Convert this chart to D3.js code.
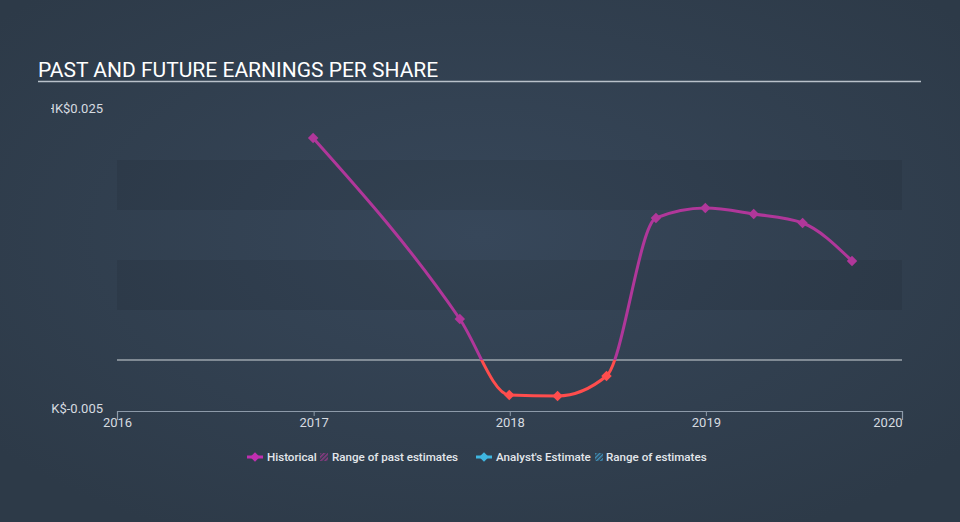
<!DOCTYPE html>
<html><head><meta charset="utf-8">
<script src="https://cdn.jsdelivr.net/npm/d3@7"></script>
<style>body{margin:0;background:#2f3c4b;}svg{display:block;}</style>
</head><body>
<svg id="c" width="960" height="522"></svg>
<script>
const dates = ["2016-12-31","2017-09-30","2017-12-31","2018-03-31","2018-06-30","2018-09-30","2018-12-31","2019-03-31","2019-06-30","2019-09-30"];
const eps = [0.0222,0.0041,-0.0035,-0.0036,-0.0016,0.0142,0.0152,0.0146,0.0137,0.0099];
const yTicks = [0.025,-0.005];
const xTickYears = [2016,2017,2018,2019,2020];
const title = "PAST AND FUTURE EARNINGS PER SHARE";
const legendItems = ["Historical","Range of past estimates","Analyst's Estimate","Range of estimates"];

const svg = d3.select("#c");
const W = 960, H = 522;
const defs = svg.append("defs");
const rg = defs.append("radialGradient").attr("id","bg").attr("cx","50%").attr("cy","45%").attr("r","65%");
rg.append("stop").attr("offset","0%").attr("stop-color","#37475a");
rg.append("stop").attr("offset","100%").attr("stop-color","#2d3a48");
svg.append("rect").attr("width",W).attr("height",H).attr("fill","url(#bg)");

const parse = d3.timeParse("%Y-%m-%d");
const data = dates.map((d,i)=>({date:parse(d), v:eps[i]}));
const x = d3.scaleTime().domain([new Date(2016,0,1), new Date(2020,0,1)]).range([117,902]);
const y = d3.scaleLinear().domain([-0.005,0.025]).range([410,110]);

// bands
const bandEdges = d3.range(-0.005, 0.0251, 0.005).map(v=>+v.toFixed(3));
for (let i=1;i<bandEdges.length-1;i++){
  if (i%2===0) {
    svg.append("rect").attr("x",x.range()[0]).attr("width",x.range()[1]-x.range()[0])
      .attr("y",y(bandEdges[i+1])).attr("height",y(bandEdges[i])-y(bandEdges[i+1]))
      .attr("fill","#000").attr("opacity",0.07);
  }
}

// title
svg.append("text").attr("x",38).attr("y",77).text(title)
  .attr("fill","#ffffff").attr("font-family","Roboto").attr("font-size",21);
svg.append("line").attr("x1",38).attr("x2",921).attr("y1",81.5).attr("y2",81.5)
  .attr("stroke","#b9c1ca").attr("stroke-width",1.5);

// y labels, clipped at left
defs.append("clipPath").attr("id","ylab").append("rect").attr("x",51).attr("y",0).attr("width",200).attr("height",H);
const yl = svg.append("g").attr("clip-path","url(#ylab)");
yl.selectAll("text").data(yTicks).join("text")
  .attr("x",103).attr("y",d=>y(d)-2).attr("dy","0.35em").attr("text-anchor","end")
  .attr("fill","#d6dbe0").attr("font-family","Roboto").attr("font-size",13)
  .text(d=>"HK$"+d.toFixed(3));

// zero line
svg.append("line").attr("x1",117).attr("x2",902).attr("y1",y(0)).attr("y2",y(0))
  .attr("stroke","#d0d5da").attr("stroke-width",1.2);

// x axis
const xa = svg.append("g").attr("transform",`translate(0,${y(-0.005)+1})`)
  .call(d3.axisBottom(x).tickValues(xTickYears.map(yr=>new Date(yr,0,1))).tickFormat(d3.timeFormat("%Y")).tickSizeInner(5).tickSizeOuter(9));
xa.select(".domain").attr("stroke","#8d9aa9").attr("stroke-width",1.2);
xa.selectAll(".tick line").attr("stroke","#8d9aa9");
xa.selectAll(".tick text").attr("fill","#d6dbe0").attr("font-family","Roboto").attr("font-size",13).attr("dy","0.5em").attr("y",9);
xa.selectAll(".tick text").filter((d,i,n)=>i===n.length-1).attr("text-anchor","end");

// line with color split at zero
const line = d3.line().x(d=>x(d.date)).y(d=>y(d.v)).curve(d3.curveMonotoneX);
defs.append("clipPath").attr("id","above").append("rect").attr("x",0).attr("y",0).attr("width",W).attr("height",y(0));
defs.append("clipPath").attr("id","below").append("rect").attr("x",0).attr("y",y(0)).attr("width",W).attr("height",H-y(0));
const mag = "#b0379a", red = "#ff4d4d";
svg.append("path").datum(data).attr("d",line).attr("fill","none").attr("stroke",mag).attr("stroke-width",3).attr("clip-path","url(#above)");
svg.append("path").datum(data).attr("d",line).attr("fill","none").attr("stroke",red).attr("stroke-width",3).attr("clip-path","url(#below)");
svg.selectAll(".pt").data(data).join("path").attr("class","pt")
  .attr("d",d3.symbol().type(d3.symbolSquare).size(55))
  .attr("transform",d=>`translate(${x(d.date)},${y(d.v)}) rotate(45)`)
  .attr("fill",d=>d.v<0?red:mag);

// legend
const pat1 = defs.append("pattern").attr("id","h1").attr("width",3).attr("height",3).attr("patternUnits","userSpaceOnUse").attr("patternTransform","rotate(45)");
pat1.append("rect").attr("width",1.5).attr("height",3).attr("fill","#8f3a85");
const pat2 = defs.append("pattern").attr("id","h2").attr("width",3).attr("height",3).attr("patternUnits","userSpaceOnUse").attr("patternTransform","rotate(45)");
pat2.append("rect").attr("width",1.5).attr("height",3).attr("fill","#3f8fb8");
const ly = 457;
const lg = svg.append("g").attr("font-family","Roboto").attr("font-size",11.6).attr("font-weight",500).attr("fill","#e3e7eb");
function marker(cx,col){
  lg.append("line").attr("x1",cx-8).attr("x2",cx+8).attr("y1",ly).attr("y2",ly).attr("stroke",col).attr("stroke-width",3);
  lg.append("path").attr("d",d3.symbol().type(d3.symbolSquare).size(45)).attr("transform",`translate(${cx},${ly}) rotate(45)`).attr("fill",col);
}
marker(255,"#c02fb0");
lg.append("text").attr("x",267).attr("y",ly).attr("dy","0.35em").text(legendItems[0]);
lg.append("rect").attr("x",320).attr("y",ly-4).attr("width",8).attr("height",8).attr("fill","url(#h1)");
lg.append("text").attr("x",332).attr("y",ly).attr("dy","0.35em").text(legendItems[1]);
marker(484,"#3fb6e0");
lg.append("text").attr("x",496).attr("y",ly).attr("dy","0.35em").text(legendItems[2]);
lg.append("rect").attr("x",595).attr("y",ly-4).attr("width",8).attr("height",8).attr("fill","url(#h2)");
lg.append("text").attr("x",606).attr("y",ly).attr("dy","0.35em").text(legendItems[3]);
</script>
</body></html>
